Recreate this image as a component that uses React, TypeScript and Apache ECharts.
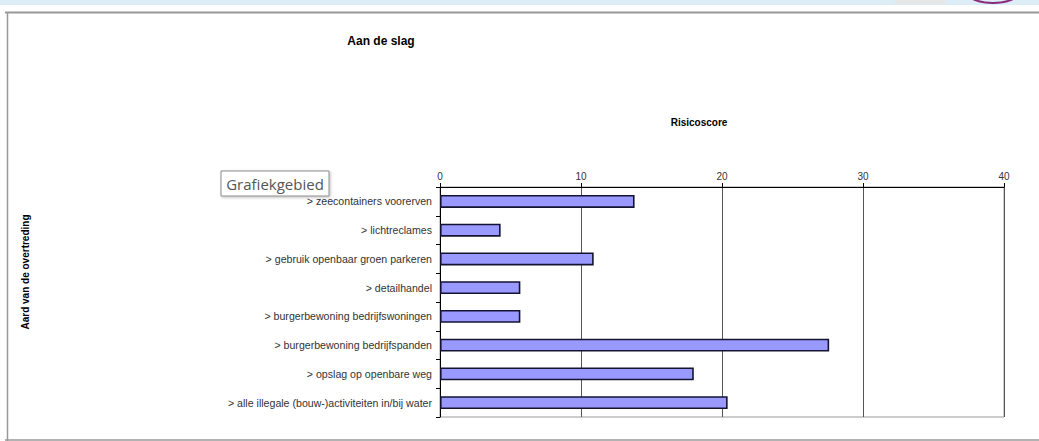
import React, { useEffect, useRef } from "react";
import * as echarts from "echarts";

const categories = [
  "> zeecontainers voorerven",
  "> lichtreclames",
  "> gebruik openbaar groen parkeren",
  "> detailhandel",
  "> burgerbewoning bedrijfswoningen",
  "> burgerbewoning bedrijfspanden",
  "> opslag op openbare weg",
  "> alle illegale (bouw-)activiteiten in/bij water",
];
const scores = [13.8, 4.3, 10.9, 5.7, 5.7, 27.6, 18.0, 20.4];
const xMin = 0;
const xMax = 40;
const xInterval = 10;
const chartTitle = "Aan de slag";
const xName = "Risicoscore";
const yName = "Aard van de overtreding";
const tipLabel = "Grafiekgebied";

export default function App() {
  const ref = useRef<HTMLDivElement>(null);
  useEffect(() => {
    if (!ref.current) return;
    const chart = echarts.init(ref.current, null, { renderer: "svg" });
    chart.setOption({
      animation: false,
      backgroundColor: "#ffffff",
      grid: {
        left: 440,
        right: 35,
        top: 187,
        bottom: 24,
        show: true,
        borderColor: "#9a9a9a",
        borderWidth: 1,
        backgroundColor: "transparent",
      },
      xAxis: {
        type: "value",
        position: "top",
        min: xMin,
        max: xMax,
        interval: xInterval,
        axisLine: { show: true, lineStyle: { color: "#000", width: 1 } },
        axisTick: { show: true, length: 4, lineStyle: { color: "#000" } },
        axisLabel: { color: "#333", fontSize: 10, fontFamily: "Arial, Liberation Sans", margin: 6 },
        splitLine: { show: true, lineStyle: { color: "#555", width: 1 } },
      },
      yAxis: {
        type: "category",
        inverse: true,
        data: categories,
        axisLine: { show: true, lineStyle: { color: "#000", width: 1 } },
        axisTick: { show: true, length: 4, lineStyle: { color: "#000" } },
        axisLabel: { color: "#333", fontSize: 10.6, fontFamily: "Arial, Liberation Sans", margin: 8 },
        splitLine: { show: false },
      },
      series: [
        {
          type: "bar",
          data: scores,
          barWidth: 13,
          itemStyle: { color: "#9999ff", borderColor: "#141432", borderWidth: 1.6 },
        },
      ],
      graphic: [
        { type: "rect", shape: { x: 0, y: 0, width: 1039, height: 5 }, style: { fill: "#dcedf7" }, silent: true },
        { type: "rect", shape: { x: 895, y: 0, width: 50, height: 4 }, style: { fill: "#e6e6e6" }, silent: true },
        { type: "ellipse", shape: { cx: 993, cy: -6, rx: 24, ry: 9 }, style: { fill: "none", stroke: "#8a2a7a", lineWidth: 2 }, silent: true },
        { type: "line", shape: { x1: 5, y1: 12.5, x2: 1039, y2: 12.5 }, style: { stroke: "#999", lineWidth: 2 }, silent: true },
        { type: "line", shape: { x1: 7.5, y1: 12, x2: 7.5, y2: 441 }, style: { stroke: "#999", lineWidth: 1.5 }, silent: true },
        { type: "line", shape: { x1: 5, y1: 440, x2: 1039, y2: 440 }, style: { stroke: "#999", lineWidth: 1.5 }, silent: true },
        {
          type: "text",
          x: 381,
          y: 41,
          style: { text: chartTitle, fill: "#000", font: "bold 12px Arial, Liberation Sans", align: "center", verticalAlign: "middle" },
        },
        {
          type: "text",
          x: 699,
          y: 122,
          style: { text: xName, fill: "#000", font: "bold 10px Arial, Liberation Sans", align: "center", verticalAlign: "middle" },
        },
        {
          type: "text",
          x: 25,
          y: 272,
          rotation: Math.PI / 2,
          style: { text: yName, fill: "#000", font: "bold 10px Arial, Liberation Sans", align: "center", verticalAlign: "middle" },
        },
        {
          type: "rect",
          shape: { x: 221, y: 171, width: 108, height: 25 },
          style: { fill: "#fff", stroke: "#8c8c8c", lineWidth: 1, shadowBlur: 3, shadowColor: "rgba(0,0,0,0.25)", shadowOffsetX: 1, shadowOffsetY: 1 },
        },
        {
          type: "text",
          x: 275,
          y: 184,
          style: { text: tipLabel, fill: "#555", font: "15px 'Open Sans', 'DejaVu Sans', sans-serif", align: "center", verticalAlign: "middle" },
        },
      ],
    });
    return () => chart.dispose();
  }, []);
  return (
    <div
      ref={ref}
      style={{ position: "fixed", left: 0, top: 0, width: 1039, height: 441 }}
    />
  );
}
